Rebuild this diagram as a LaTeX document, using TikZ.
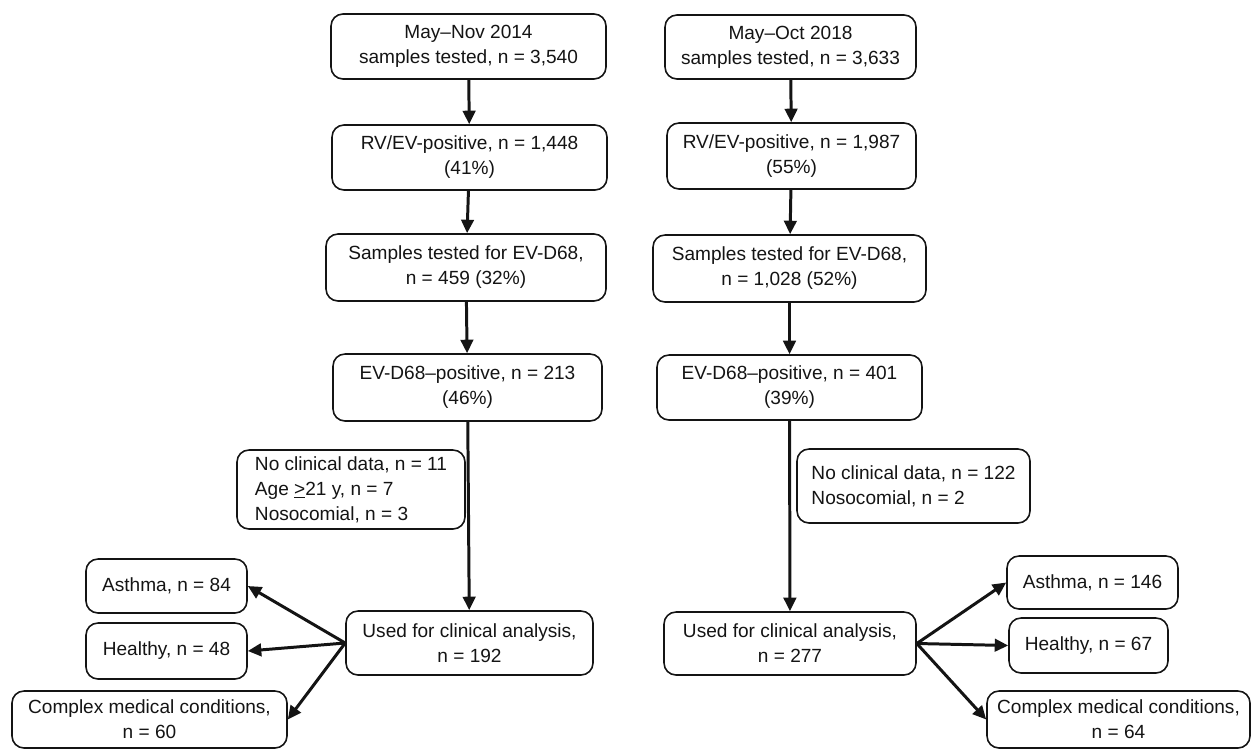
\documentclass[tikz,border=0pt]{standalone}
\usepackage{fontspec}
\setmainfont{Liberation Sans}
\usetikzlibrary{arrows.meta,calc}
\definecolor{LineClr}{rgb}{0.08,0.08,0.08}

\begin{document}
\begin{tikzpicture}[x=0.2mm,y=-0.2mm,
  box/.style={draw=LineClr,line width=0.9pt,rounded corners=2.4mm,align=center,inner sep=0pt,
    text=LineClr,font=\fontsize{10.85}{14.2}\selectfont},
  sz/.style 2 args={minimum width=#1*0.2mm,minimum height=#2*0.2mm},
  arr/.style={draw=LineClr,line width=1.7pt,-{Triangle[length=2.7mm,width=2.5mm]}}]
\useasboundingbox (0,0) rectangle (1252,750);

\node[box,sz={275}{65}] (l1) at (468.5,46.5) {May–Nov 2014\\samples tested, n = 3,540};
\node[box,sz={275}{65}] (l2) at (469.5,157.5) {RV/EV-positive, n = 1,448\\(41\%)};
\node[box,sz={280}{67}] (l3) at (466,267.5) {Samples tested for EV-D68,\\n = 459 (32\%)};
\node[box,sz={269}{67}] (l4) at (467.5,387.5) {EV-D68–positive, n = 213\\(46\%)};
\node[box,sz={228}{79},align=left] (exl) at (351,489.5) {No clinical data, n = 11\\Age \underline{>}21 y, n = 7\\Nosocomial, n = 3};
\node[box,sz={247}{64}] (usedl) at (469.5,643) {Used for clinical analysis,\\n = 192};
\node[box,sz={161}{54}] (asthl) at (166.5,586) {Asthma, n = 84};
\node[box,sz={161}{56}] (healthl) at (166.5,651) {Healthy, n = 48};
\node[box,sz={275}{57}] (compl) at (149.5,719.5) {Complex medical conditions,\\n = 60};

\node[box,sz={251}{64}] (r1) at (790.5,47) {May–Oct 2018\\samples tested, n = 3,633};
\node[box,sz={249}{66}] (r2) at (791.5,156) {RV/EV-positive, n = 1,987\\(55\%)};
\node[box,sz={273}{67}] (r3) at (789.5,268.5) {Samples tested for EV-D68,\\n = 1,028 (52\%)};
\node[box,sz={265}{65}] (r4) at (789.5,387.5) {EV-D68–positive, n = 401\\(39\%)};
\node[box,sz={233}{74},align=left] (exr) at (913.5,486) {No clinical data, n = 122\\Nosocomial, n = 2};
\node[box,sz={252}{63}] (usedr) at (790,643.5) {Used for clinical analysis,\\n = 277};
\node[box,sz={171}{53}] (asthr) at (1092.5,582.5) {Asthma, n = 146};
\node[box,sz={159}{55}] (healthr) at (1088.5,645.5) {Healthy, n = 67};
\node[box,sz={263}{57}] (compr) at (1118.5,719.5) {Complex medical conditions,\\n = 64};

\draw[arr] (l1) -- (l2);
\draw[arr] (l2) -- (l3);
\draw[arr] (l3) -- (l4);
\draw[arr] (l4) -- (usedl);
\draw[arr] (usedl.west) -- (asthl.east);
\draw[arr] (usedl.west) -- (healthl.east);
\draw[arr] (usedl.west) -- (compl.east);

\draw[arr] (r1) -- (r2);
\draw[arr] (r2) -- (r3);
\draw[arr] (r3) -- (r4);
\draw[arr] (r4) -- (usedr);
\draw[arr] (usedr.east) -- (asthr.west);
\draw[arr] (usedr.east) -- (healthr.west);
\draw[arr] (usedr.east) -- (compr.west);

\end{tikzpicture}
\end{document}
